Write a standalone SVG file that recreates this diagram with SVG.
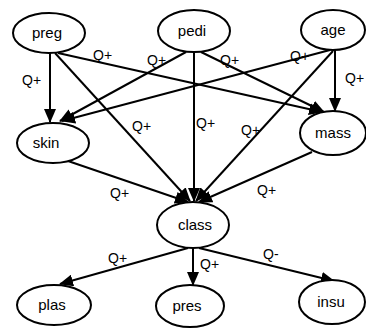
<svg xmlns="http://www.w3.org/2000/svg" width="366" height="336" viewBox="0 0 366 336">
<style>
.n ellipse{fill:#fff;stroke:#000;stroke-width:2}
.n text{font-family:"Liberation Sans",Arial,sans-serif;font-size:15px;text-anchor:middle;fill:#000}
#edges line{stroke:#000;stroke-width:2;marker-end:url(#ah)}
.lb{font-family:"Liberation Sans",Arial,sans-serif;font-size:14px;fill:#000}
</style>
<defs>
<marker id="ah" markerUnits="userSpaceOnUse" markerWidth="14" markerHeight="12" refX="13" refY="6" orient="auto">
<path d="M0,0 L14,6 L0,12 z" fill="#000"/>
</marker>
</defs>
<rect width="366" height="336" fill="#fff"/>
<g id="edges">
<line x1="50" y1="53" x2="50" y2="122"/>
<line x1="55" y1="53" x2="190" y2="201"/>
<line x1="58" y1="53" x2="322" y2="112"/>
<line x1="186" y1="52" x2="60" y2="121"/>
<line x1="194" y1="52" x2="194" y2="201"/>
<line x1="201" y1="52" x2="324" y2="112"/>
<line x1="330" y1="50" x2="62" y2="121"/>
<line x1="335" y1="50" x2="335" y2="111"/>
<line x1="333" y1="51" x2="196" y2="201"/>
<line x1="68" y1="161" x2="188" y2="202"/>
<line x1="312" y1="152" x2="199" y2="202"/>
<line x1="188" y1="248" x2="60" y2="284"/>
<line x1="193" y1="248" x2="193" y2="285"/>
<line x1="199" y1="248" x2="334" y2="281"/>
<g class="lb">
<text x="22" y="85">Q+</text>
<text x="93" y="60">Q+</text>
<text x="147" y="65">Q+</text>
<text x="132" y="131">Q+</text>
<text x="220" y="65">Q+</text>
<text x="290" y="61">Q+</text>
<text x="345" y="83">Q+</text>
<text x="196" y="128">Q+</text>
<text x="241" y="135">Q+</text>
<text x="110" y="198">Q+</text>
<text x="257" y="195">Q+</text>
<text x="108" y="263">Q+</text>
<text x="200" y="269">Q+</text>
<text x="263" y="259">Q-</text>
</g>
</g>
<g id="preg" class="n"><ellipse cx="49" cy="33" rx="36" ry="20"/><text x="47" y="38">preg</text></g>
<g id="pedi" class="n"><ellipse cx="194" cy="31" rx="36" ry="21"/><text x="192" y="36">pedi</text></g>
<g id="age" class="n"><ellipse cx="333" cy="30" rx="32" ry="20"/><text x="333" y="35">age</text></g>
<g id="skin" class="n"><ellipse cx="53" cy="143" rx="36" ry="20"/><text x="46" y="148">skin</text></g>
<g id="mass" class="n"><ellipse cx="333" cy="133" rx="33" ry="22"/><text x="333" y="138">mass</text></g>
<g id="class" class="n"><ellipse cx="193" cy="225" rx="36" ry="23"/><text x="195" y="230">class</text></g>
<g id="plas" class="n"><ellipse cx="54" cy="305" rx="37" ry="20"/><text x="52" y="310">plas</text></g>
<g id="pres" class="n"><ellipse cx="190" cy="306" rx="34" ry="21"/><text x="187" y="311">pres</text></g>
<g id="insu" class="n"><ellipse cx="332" cy="302" rx="33" ry="22"/><text x="331" y="307">insu</text></g>
</svg>
